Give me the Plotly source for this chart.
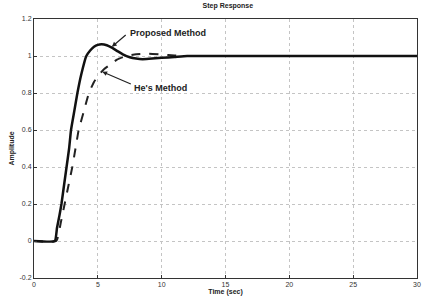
import plotly.graph_objects as go

# Data
t_proposed = [0, 1.63, 1.8, 2.0, 2.15, 2.35, 2.55, 2.75, 2.9, 3.15, 3.4, 3.7, 4.1, 4.4, 4.7, 5.0,
              5.3, 5.7, 6.1, 6.5, 7.0, 7.5, 8.0, 8.5, 9.0, 9.5, 10.0, 11.0, 12.0, 14.0, 30.0]
y_proposed = [0, 0, 0.07, 0.14, 0.2, 0.3, 0.4, 0.5, 0.6, 0.7, 0.8, 0.9, 1.0, 1.03, 1.05, 1.06,
              1.063, 1.058, 1.045, 1.028, 1.007, 0.993, 0.986, 0.983, 0.985, 0.988, 0.99, 0.995, 1.0, 1.0, 1.0]

t_he = [0, 1.75, 2.1, 2.4, 2.7, 3.0, 3.25, 3.5, 3.9, 4.3, 4.7, 5.1, 5.5, 5.9, 6.5, 7.2, 8.0,
        9.0, 10.0, 11.0, 12.0, 30.0]
y_he = [0, 0, 0.1, 0.2, 0.3, 0.4, 0.5, 0.6, 0.7, 0.8, 0.86, 0.9, 0.93, 0.95, 0.98, 1.0, 1.01,
        1.012, 1.008, 1.003, 1.0, 1.0]

x_ticks = [0, 5, 10, 15, 20, 25, 30]
y_ticks = [-0.2, 0, 0.2, 0.4, 0.6, 0.8, 1, 1.2]
y_tick_labels = ["-0.2", "0", "0.2", "0.4", "0.6", "0.8", "1", "1.2"]

font = "Liberation Sans"

fig = go.Figure()
fig.add_trace(go.Scatter(x=t_he, y=y_he, mode="lines",
                         line=dict(color="#222", width=2, dash="dash", shape="spline", smoothing=0.4),
                         showlegend=False))
fig.add_trace(go.Scatter(x=t_proposed, y=y_proposed, mode="lines",
                         line=dict(color="#111", width=2.5, shape="spline", smoothing=0.4),
                         showlegend=False))

axis_common = dict(showline=True, linecolor="#333", linewidth=1, mirror=True,
                   showgrid=True, gridcolor="#c4c4c4", griddash="dot", gridwidth=1,
                   zeroline=False, ticks="inside", ticklen=3, tickcolor="#333",
                   automargin=False,
                   tickfont=dict(family=font, size=7, color="#333"))

fig.update_xaxes(range=[0, 30], tickvals=x_ticks,
                 title=dict(text="<b>Time (sec)</b>", font=dict(family=font, size=7, color="#222"), standoff=0),
                 **axis_common)
fig.update_yaxes(range=[-0.2, 1.2], tickvals=y_ticks, ticktext=y_tick_labels,
                 title=dict(text="<b>Amplitude</b>", font=dict(family=font, size=7, color="#222"), standoff=4),
                 **axis_common)

fig.add_annotation(x=6.1, y=1.05, ax=7.3, ay=1.12, axref="x", ayref="y", text="",
                   showarrow=True, arrowhead=2, arrowsize=0.8, arrowwidth=1.2, arrowcolor="#222")
fig.add_annotation(x=10.5, y=1.126, text="<b>Proposed Method</b>", showarrow=False,
                   font=dict(family=font, size=9, color="#222"))
fig.add_annotation(x=5.35, y=0.915, ax=7.7, ay=0.845, axref="x", ayref="y", text="",
                   showarrow=True, arrowhead=2, arrowsize=0.8, arrowwidth=1.2, arrowcolor="#222")
fig.add_annotation(x=9.9, y=0.829, text="<b>He's Method</b>", showarrow=False,
                   font=dict(family=font, size=9, color="#222"))

fig.update_layout(
    width=422, height=301,
    margin=dict(l=34, r=5, t=19, b=23),
    paper_bgcolor="white", plot_bgcolor="white",
    title=dict(text="<b>Step Response</b>", x=0.54, xanchor="center", y=0.99, yanchor="top",
               font=dict(family=font, size=7, color="#222")),
)

fig.write_html("out.html", config={"displayModeBar": False},
               post_script="document.body.style.margin='0';document.body.style.overflow='hidden';")
